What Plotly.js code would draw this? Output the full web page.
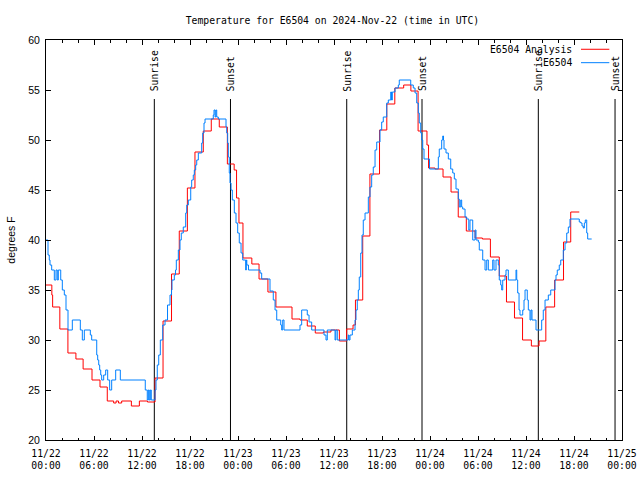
<!DOCTYPE html>
<html>
<head>
<meta charset="utf-8">
<script src="https://cdn.plot.ly/plotly-3.0.1.min.js"></script>
<style>html,body{margin:0;padding:0;background:#fff;}#chart{width:640px;height:480px;}</style>
</head>
<body>
<div id="chart"></div>
<script>
// ---- data (hours after 2024-11-22 00:00 UTC, degrees F) ----
const analysisHours = [0, 0.73, 0.83, 1.73, 2.74, 3.74, 4.64, 5.75, 6.75, 7.66, 8.46, 8.76, 9.06, 9.46, 10.67, 11.67, 12.68, 13.63, 14.63, 15.69, 16.66, 17.67, 18.62, 19.66, 20.66, 21.66, 22.67, 23.52, 23.82, 24.12, 24.62, 25.73, 26.63, 27.74, 28.74, 30.75, 31.75, 32.66, 33.66, 34.67, 35.62, 36.67, 37.58, 38.38, 38.68, 39.59, 40.49, 41.69, 42.6, 43.6, 44.71, 45.61, 46.51, 47.62, 47.82, 48.62, 49.63, 50.63, 51.53, 52.54, 53.64, 54.55, 55.55, 56.66, 57.56, 58.56, 59.57, 60.67, 61.63, 62.48, 63.58, 64.69, 65.59, 66.66];
const analysisTemps = [35.5, 34.5, 33.3, 31.1, 28.7, 28.1, 27.1, 26.0, 25.3, 23.9, 23.7, 23.9, 23.7, 23.9, 23.4, 23.9, 23.8, 26.2, 31.9, 36.6, 40.9, 45.2, 48.8, 50.9, 52.1, 51.3, 47.6, 47.0, 44.2, 41.7, 38.2, 37.6, 36.1, 34.8, 33.3, 32.1, 32.0, 31.4, 30.7, 30.8, 31.0, 29.9, 31.1, 31.5, 34.0, 40.4, 46.6, 51.0, 53.6, 55.2, 55.5, 54.9, 50.9, 49.5, 47.2, 47.1, 46.3, 44.8, 42.3, 40.9, 40.2, 40.1, 38.3, 36.4, 33.8, 32.2, 30.0, 29.4, 29.9, 33.3, 36.0, 39.8, 42.8, 42.8];

const obsHours = [0, 0.25, 0.41, 0.5, 0.71, 1.04, 1.25, 1.41, 1.54, 1.84, 2.04, 2.29, 2.5, 2.75, 3.29, 4.29, 4.54, 4.79, 5.54, 5.71, 6.34, 6.46, 6.59, 6.71, 6.84, 6.96, 7.21, 7.46, 7.71, 7.96, 8.21, 8.71, 9.29, 12.41, 12.66, 12.79, 12.91, 13.04, 13.16, 13.63, 13.75, 13.91, 14.09, 14.29, 14.59, 14.88, 15.19, 15.5, 15.69, 15.75, 16.04, 16.19, 16.29, 16.54, 16.75, 16.91, 17.16, 17.46, 17.59, 17.79, 18.09, 18.21, 18.41, 18.54, 18.71, 18.84, 19.04, 19.46, 19.59, 19.75, 19.88, 20.91, 21.0, 21.13, 21.23, 21.34, 21.54, 22.5, 22.59, 22.71, 22.79, 22.91, 23.0, 23.13, 23.29, 23.54, 23.75, 23.96, 24.16, 24.38, 24.59, 24.96, 25.04, 25.1, 25.31, 26.75, 26.96, 28.0, 28.41, 28.63, 28.84, 29.34, 29.46, 29.59, 29.75, 31.75, 31.96, 32.66, 32.88, 33.21, 34.75, 35.0, 35.16, 36.13, 36.23, 36.41, 37.79, 37.88, 38.0, 38.29, 38.63, 38.75, 38.91, 39.04, 39.16, 39.34, 39.5, 39.66, 39.88, 40.29, 40.5, 40.71, 40.91, 41.13, 41.34, 41.75, 41.96, 42.16, 42.59, 42.79, 43.09, 43.19, 43.29, 43.63, 44.04, 44.16, 45.59, 45.91, 46.13, 46.34, 46.54, 46.66, 46.84, 46.96, 47.09, 47.25, 47.94, 49.04, 49.16, 49.46, 49.59, 49.69, 49.75, 50.0, 50.29, 50.59, 50.84, 51.04, 51.25, 51.54, 51.66, 51.84, 51.96, 52.09, 52.38, 52.59, 52.85, 53.0, 53.34, 53.63, 53.75, 54.04, 54.16, 54.59, 54.88, 55.09, 55.29, 55.84, 56.0, 56.25, 56.54, 56.66, 56.84, 56.96, 57.09, 57.38, 57.5, 57.79, 58.75, 58.84, 58.96, 59.13, 59.25, 59.59, 59.75, 59.88, 60.16, 60.29, 60.5, 60.63, 60.75, 61.25, 61.96, 62.16, 62.38, 62.79, 63.09, 63.63, 63.75, 63.91, 64.16, 64.34, 64.66, 64.88, 65.09, 65.29, 65.5, 66.66, 66.84, 67.0, 67.16, 67.29, 67.41, 67.59, 67.71, 68.21];
const obsTemps = [40.0, 38.5, 38.0, 37.5, 37.0, 36.0, 37.0, 36.0, 37.0, 36.0, 35.0, 34.5, 33.0, 31.0, 32.0, 31.0, 30.0, 31.0, 30.5, 30.0, 28.5, 28.0, 27.5, 27.0, 26.5, 26.0, 26.5, 27.0, 26.0, 25.0, 26.0, 27.0, 26.0, 25.0, 24.0, 25.0, 24.0, 25.0, 24.0, 25.0, 26.0, 27.5, 28.5, 30.0, 31.5, 32.0, 33.5, 34.5, 35.0, 36.0, 36.5, 37.0, 38.0, 39.0, 40.0, 40.7, 41.3, 42.7, 43.5, 44.0, 45.3, 46.0, 46.5, 47.0, 47.5, 48.0, 48.7, 49.7, 50.7, 51.7, 52.1, 52.5, 53.0, 52.3, 53.0, 52.3, 52.1, 51.3, 50.7, 49.7, 48.3, 46.7, 45.7, 45.0, 44.0, 42.7, 41.7, 40.7, 39.7, 38.7, 38.0, 37.0, 38.0, 37.5, 37.0, 36.7, 36.1, 34.9, 34.0, 33.0, 32.0, 31.5, 31.0, 32.0, 31.0, 31.5, 33.0, 32.5, 31.8, 31.0, 30.5, 30.0, 31.0, 30.0, 31.0, 30.0, 30.5, 30.0, 30.5, 31.0, 32.0, 33.0, 34.0, 35.0, 36.3, 38.7, 40.5, 42.0, 42.7, 44.3, 45.3, 46.5, 47.3, 49.0, 49.8, 51.0, 51.8, 52.3, 53.7, 54.0, 54.8, 54.0, 54.8, 55.2, 55.5, 56.0, 55.5, 55.2, 54.7, 53.7, 52.7, 51.7, 50.7, 50.0, 49.1, 48.1, 47.1, 48.3, 49.1, 50.0, 50.4, 50.0, 49.1, 48.7, 48.1, 47.1, 46.7, 46.1, 45.1, 44.1, 43.3, 44.0, 43.3, 43.1, 42.3, 42.1, 41.0, 42.0, 40.0, 41.0, 40.0, 39.8, 39.0, 38.0, 37.0, 38.0, 37.0, 38.0, 37.0, 38.0, 37.5, 36.0, 35.5, 35.0, 36.0, 36.5, 37.0, 36.0, 37.0, 36.0, 34.7, 33.0, 32.5, 33.0, 34.0, 35.0, 34.0, 33.0, 32.0, 33.0, 32.0, 31.0, 32.0, 33.0, 34.0, 34.5, 35.0, 36.0, 36.5, 37.0, 37.5, 38.0, 39.0, 39.7, 40.7, 41.3, 42.1, 41.8, 41.7, 41.4, 41.2, 41.7, 42.0, 40.7, 40.1, 40.1];

const sunHours = [13.54, 23.06, 37.59, 47.0, 61.54, 71.13];
const sunLabels = ["Sunrise", "Sunset", "Sunrise", "Sunset", "Sunrise", "Sunset"];

const tickHours = [0, 6, 12, 18, 24, 30, 36, 42, 48, 54, 60, 66, 72];
const tickDays = ["11/22", "11/22", "11/22", "11/22", "11/23", "11/23", "11/23", "11/23", "11/24", "11/24", "11/24", "11/24", "11/25"];
const tickClock = ["00:00", "06:00", "12:00", "18:00", "00:00", "06:00", "12:00", "18:00", "00:00", "06:00", "12:00", "18:00", "00:00"];

const seriesNames = ["E6504 Analysis", "E6504"];
const seriesColors = ["#ff0000", "#0080ff"];

// ---- helpers ----
const BASE = Date.UTC(2024, 10, 22, 0, 0, 0);
function toDate(h) {
  return new Date(BASE + Math.round(h * 3600000)).toISOString().slice(0, 19).replace('T', ' ');
}

const mono = "DejaVu Sans Mono, Liberation Mono, monospace";
const sans = "Liberation Sans, Arial, sans-serif";

const traces = [
  {
    x: analysisHours.map(toDate), y: analysisTemps, name: seriesNames[0],
    type: 'scatter', mode: 'lines', line: {shape: 'hv', color: seriesColors[0], width: 1},
    hoverinfo: 'x+y+name'
  },
  {
    x: obsHours.map(toDate), y: obsTemps, name: seriesNames[1],
    type: 'scatter', mode: 'lines', line: {shape: 'hv', color: seriesColors[1], width: 1},
    hoverinfo: 'x+y+name'
  }
];

const shapes = sunHours.map(h => ({
  type: 'line', xref: 'x', yref: 'y', x0: toDate(h), x1: toDate(h), y0: 20, y1: 54.1,
  line: {color: 'black', width: 1}, layer: 'below'
}));

const annotations = sunHours.map((h, i) => ({
  x: toDate(h), y: 54.65, xref: 'x', yref: 'y', text: sunLabels[i], textangle: -90,
  showarrow: false, xanchor: 'center', yanchor: 'bottom',
  font: {family: mono, size: 9.75, color: 'black'}
}));

// gnuplot-style legend: text on the left, sample line on the right
const legendY = [0.9768, 0.9433];
seriesNames.forEach((nm, i) => {
  annotations.push({
    x: 0.9172, y: legendY[i], xref: 'paper', yref: 'paper', text: nm, showarrow: false,
    xanchor: 'right', yanchor: 'middle', font: {family: mono, size: 9.75, color: 'black'}
  });
  shapes.push({
    type: 'line', xref: 'paper', yref: 'paper', x0: 0.9288, x1: 0.978, y0: legendY[i], y1: legendY[i],
    line: {color: seriesColors[i], width: 1}
  });
});

const layout = {
  width: 640, height: 480,
  margin: {l: 46, r: 18, t: 40, b: 40, pad: 0},
  paper_bgcolor: '#ffffff', plot_bgcolor: '#ffffff',
  showlegend: false,
  title: {
    text: 'Temperature for E6504 on 2024-Nov-22 (time in UTC)',
    font: {family: mono, size: 9.75, color: 'black'},
    xref: 'container', yref: 'container', x: 0.5195, y: 0.958, xanchor: 'center', yanchor: 'middle'
  },
  xaxis: {
    type: 'date', range: [toDate(0), toDate(72)],
    tickmode: 'array', tickvals: tickHours.map(toDate),
    ticktext: tickDays.map((d, i) => d + '<br>' + tickClock[i]),
    ticks: 'inside', ticklen: 4.5, tickwidth: 1, tickcolor: 'black',
    showline: true, linecolor: 'black', linewidth: 1, mirror: 'ticks',
    showgrid: false, zeroline: false,
    tickfont: {family: mono, size: 9.75, color: 'black'},
    ticklabelstandoff: 4,
    minor: {tickmode: 'linear', tick0: toDate(0), dtick: 7200000, ticks: 'inside', ticklen: 2.5, tickwidth: 1, tickcolor: 'black', showgrid: false}
  },
  yaxis: {
    range: [20, 60], tickmode: 'linear', tick0: 20, dtick: 5,
    ticks: 'inside', ticklen: 4.5, tickwidth: 1, tickcolor: 'black',
    showline: true, linecolor: 'black', linewidth: 1, mirror: 'ticks',
    showgrid: false, zeroline: false,
    tickfont: {family: sans, size: 10.5, color: 'black'},
    ticklabelstandoff: 3,
    title: {text: 'degrees F', font: {family: sans, size: 10.5, color: 'black'}, standoff: 10}
  },
  shapes: shapes,
  annotations: annotations
};

Plotly.newPlot('chart', traces, layout, {staticPlot: true, displayModeBar: false});
</script>
</body>
</html>
